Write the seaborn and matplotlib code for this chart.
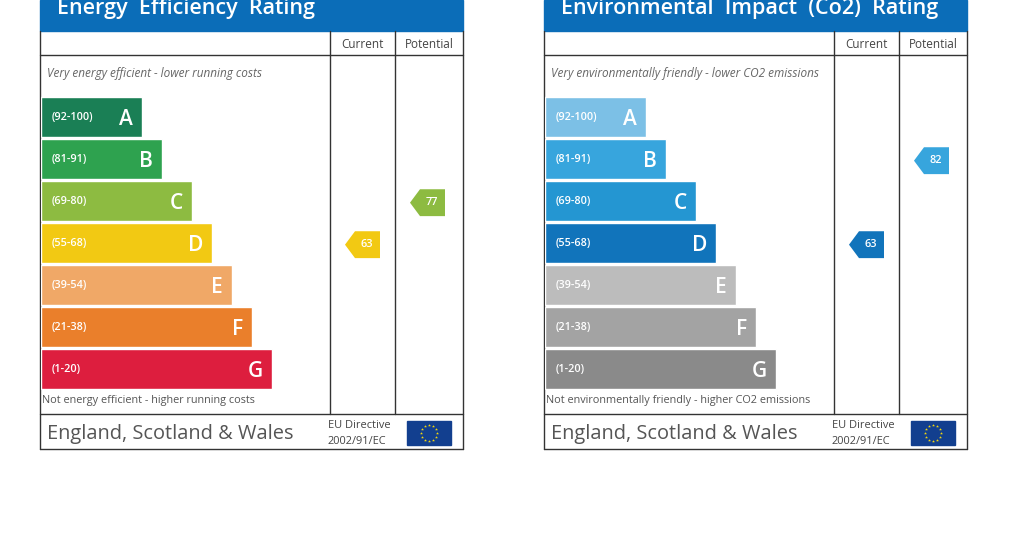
import numpy as np
import matplotlib
matplotlib.use('Agg')
import matplotlib.pyplot as plt
from matplotlib.patches import Rectangle, Polygon
import seaborn as sns

# bandes de notation
bands = ['A', 'B', 'C', 'D', 'E', 'F', 'G']
band_ranges = ['(92-100)', '(81-91)', '(69-80)', '(55-68)', '(39-54)', '(21-38)', '(1-20)']
band_lows = [92, 81, 69, 55, 39, 21, 1]
band_lengths = [101, 121, 151, 171, 191, 211, 231]

energy_colors = ['#1a7f55', '#2ea24f', '#8dbb41', '#f2c913', '#f0a867', '#ea7f2b', '#dd1e3e']
env_colors = ['#7cc0e6', '#37a5dd', '#2496d2', '#1174bb', '#bcbcbc', '#a3a3a3', '#8a8a8a']

energy_current, energy_potential = 63, 77
env_current, env_potential = 63, 82

titles = ['Energy  Efficiency  Rating', 'Environmental  Impact  (Co2)  Rating']
top_notes = ['Very energy efficient - lower running costs',
             'Very environmentally friendly - lower CO2 emissions']
bottom_notes = ['Not energy efficient - higher running costs',
                'Not environmentally friendly - higher CO2 emissions']

sns.set_style('white')
plt.rcParams['font.family'] = ['Open Sans', 'DejaVu Sans']

fig = plt.figure(figsize=(10.1, 5.55), dpi=100)
bg = fig.add_axes([0, 0, 1, 1])
bg.set_xlim(0, 1010)
bg.set_ylim(555, 0)
bg.axis('off')

header_blue = '#0b6db8'
line_col = '#333333'


def band_row(score):
    for i, low in enumerate(band_lows):
        if score >= low:
            return i
    return len(band_lows) - 1


def draw_panel(dx, title, top_note, bottom_note, colors, current, potential):
    L, R = 40 + dx, 463 + dx
    c1, c2 = 330 + dx, 395 + dx
    # en-tete bleu
    bg.add_patch(Rectangle((L, 0), R - L, 31, color=header_blue, zorder=1))
    bg.text(L + 17, 14, title, color='white', fontsize=15.5, fontweight='semibold',
            va='baseline', ha='left', zorder=2)
    # cadre
    lw = 1.0
    bg.plot([L, L], [31, 449], color=line_col, lw=lw)
    bg.plot([R, R], [31, 449], color=line_col, lw=lw)
    bg.plot([c1, c1], [31, 414], color=line_col, lw=lw)
    bg.plot([c2, c2], [31, 414], color=line_col, lw=lw)
    for yy in (55, 414, 449):
        bg.plot([L, R], [yy, yy], color=line_col, lw=lw)
    bg.text((c1 + c2) / 2, 45, 'Current', ha='center', va='center', fontsize=8.5, color='#444444')
    bg.text((c2 + R) / 2, 45, 'Potential', ha='center', va='center', fontsize=8.5, color='#444444')
    bg.text(L + 7, 73, top_note, ha='left', va='center', fontsize=8.5, style='italic', color='#666666')
    bg.text(L + 2, 401, bottom_note, ha='left', va='center', fontsize=7.8, color='#555555')
    # pied de page
    bg.text(L + 7, 432, 'England, Scotland & Wales', ha='left', va='center_baseline', fontsize=14.4, color='#555555')
    bg.text(c1 - 2, 425, 'EU Directive', ha='left', va='center', fontsize=7.9, color='#444444')
    bg.text(c1 - 2, 441, '2002/91/EC', ha='left', va='center', fontsize=7.9, color='#444444')
    # drapeau UE
    bg.add_patch(Rectangle((407 + dx, 421), 44, 24, color='#123f8f', zorder=1))
    ang = np.linspace(0, 2 * np.pi, 13)[:-1]
    bg.scatter(429 + dx + 8 * np.cos(ang), 433 + 8 * np.sin(ang), marker='*', s=5,
               color='#f5d90a', linewidths=0, zorder=2)

    # barres
    bax = fig.add_axes([(41 + dx) / 1010, 1 - 390 / 555, 422 / 1010, 294 / 555])
    sns.barplot(x=band_lengths, y=bands, hue=bands, palette=colors, orient='h',
                width=0.952, legend=False, ax=bax, saturation=1)
    bax.set_xlim(0, 422)
    bax.set_ylim(6.5, -0.5)
    bax.axis('off')
    for i, (b, rng, ln) in enumerate(zip(bands, band_ranges, band_lengths)):
        bax.text(11, i, rng, color='white', fontsize=7.8, fontweight='semibold', ha='left', va='center')
        bax.text(ln - 9, i + 0.05, b, color='white', fontsize=15, fontweight='semibold',
                 ha='right', va='center')
    # fleches des notes
    for score, x0 in ((current, 304), (potential, 369)):
        r = band_row(score)
        yc = r + 0.04
        h = 0.32
        pts = [(x0, yc), (x0 + 10, yc - h), (x0 + 35, yc - h), (x0 + 35, yc + h), (x0 + 10, yc + h)]
        bax.add_patch(Polygon(pts, closed=True, color=colors[r], lw=0))
        bax.text(x0 + 22, yc, str(score), color='white', fontsize=7.8, fontweight='semibold',
                 ha='center', va='center')


draw_panel(0, titles[0], top_notes[0], bottom_notes[0], energy_colors, energy_current, energy_potential)
draw_panel(504, titles[1], top_notes[1], bottom_notes[1], env_colors, env_current, env_potential)

fig.savefig('out.png', dpi=100)
